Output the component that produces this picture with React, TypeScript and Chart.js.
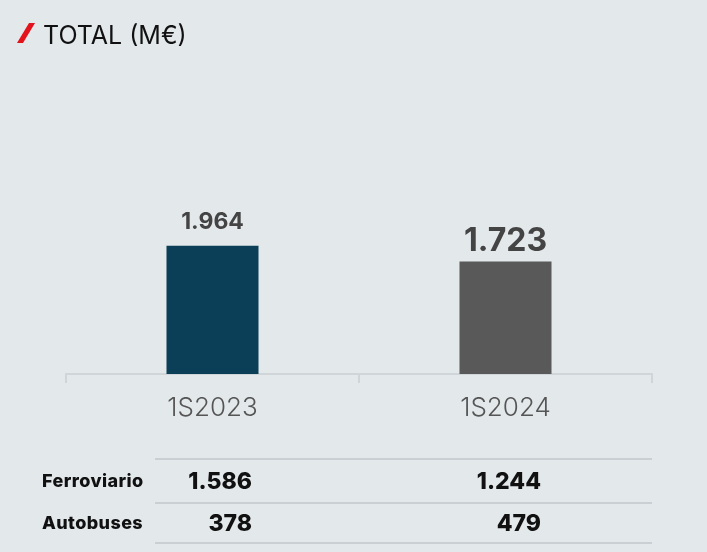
import React, { useEffect, useRef } from "react";
import { Chart, registerables } from "chart.js";

Chart.register(...registerables);

const categories = ["1S2023", "1S2024"];
const totals = [1964, 1723];
const barColors = ["#0a3f57", "#595959"];
const valueFontSizes = [23, 32];
const rowLabels = ["Ferroviario", "Autobuses"];
const ferroviario = [1586, 1244];
const autobuses = [378, 479];

const fmt = (v: number) => {
  const s = String(Math.round(v));
  return s.replace(/\B(?=(\d{3})+(?!\d))/g, ".");
};

const BG = "#e3e8eb";

export default function App() {
  const ref = useRef<HTMLCanvasElement | null>(null);

  useEffect(() => {
    document.body.style.margin = "0";
    const ctx = ref.current!;
    const valueLabels = {
      id: "valueLabels",
      afterDatasetsDraw(chart: any) {
        const c = chart.ctx;
        const meta = chart.getDatasetMeta(0);
        c.save();
        c.fillStyle = "#444444";
        c.textAlign = "center";
        c.textBaseline = "alphabetic";
        meta.data.forEach((el: any, i: number) => {
          c.font = `bold ${valueFontSizes[i]}px Inter, sans-serif`;
          const off = i === 0 ? 17 : 10;
          c.fillText(fmt(totals[i]), el.x, el.y - off);
        });
        c.restore();
      },
    };
    const chart = new Chart(ctx, {
      type: "bar",
      data: {
        labels: categories,
        datasets: [
          {
            data: totals,
            backgroundColor: barColors,
            categoryPercentage: 1,
            barPercentage: 0.314,
          },
        ],
      },
      options: {
        animation: false,
        responsive: false,
        maintainAspectRatio: false,
        layout: { padding: { left: 66, right: 55, top: 80, bottom: 0 } },
        plugins: { legend: { display: false }, tooltip: { enabled: false } },
        scales: {
          x: {
            offset: true,
            border: { display: true, color: "#cfd5d8", width: 2 },
            grid: {
              offset: true,
              drawOnChartArea: false,
              drawTicks: true,
              tickLength: 9,
              color: "#cfd5d8",
              lineWidth: 2,
            },
            ticks: {
              color: "#555555",
              font: { family: "Inter, sans-serif", size: 26, weight: 300 as any },
              padding: 10,
            },
            afterFit(scale: any) {
              scale.height = 178;
            },
          },
          y: { display: false, min: 0, max: 4500 },
        },
      },
      plugins: [valueLabels],
    });
    return () => chart.destroy();
  }, []);

  const rowStyle = (top: number): React.CSSProperties => ({
    position: "absolute",
    top,
    left: 0,
    width: 707,
    height: 30,
  });
  const lineStyle = (top: number): React.CSSProperties => ({
    position: "absolute",
    top,
    left: 155,
    width: 497,
    height: 2,
    background: "#c9cfd2",
  });
  const labelFont = "800 18px Inter, sans-serif";
  const numFont = "800 23px Inter, sans-serif";

  return (
    <div
      style={{
        position: "relative",
        width: 707,
        height: 552,
        background: BG,
        overflow: "hidden",
      }}
    >
      <canvas ref={ref} width={707} height={552} style={{ position: "absolute", left: 0, top: 0 }} />
      <div
        style={{
          position: "absolute",
          left: 23,
          top: 23,
          width: 6,
          height: 20,
          background: "#e3121b",
          transform: "skewX(-31deg)",
        }}
      />
      <div
        style={{
          position: "absolute",
          left: 43,
          top: 18,
          font: "25px Inter, sans-serif",
          color: "#111",
          lineHeight: "34px",
        }}
      >
        TOTAL (M€)
      </div>
      <div style={lineStyle(458)} />
      <div style={lineStyle(502)} />
      <div style={lineStyle(542)} />
      {[ferroviario, autobuses].map((vals, r) => (
        <div key={r} style={rowStyle(r === 0 ? 466 : 508)}>
          <div
            style={{
              position: "absolute",
              left: 42,
              top: 0,
              font: labelFont,
              letterSpacing: "0.4px",
              color: "#111",
              lineHeight: "30px",
            }}
          >
            {rowLabels[r]}
          </div>
          {vals.map((v, i) => (
            <div
              key={i}
              style={{
                position: "absolute",
                right: i === 0 ? 707 - 252 : 707 - 541,
                top: 0,
                font: numFont,
                color: "#111",
                lineHeight: "30px",
              }}
            >
              {fmt(v)}
            </div>
          ))}
        </div>
      ))}
    </div>
  );
}
